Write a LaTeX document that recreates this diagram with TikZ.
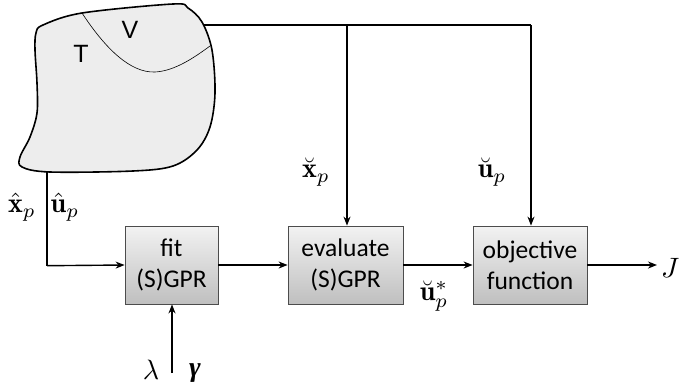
\documentclass[tikz,border=0pt]{standalone}
\usepackage{amsmath,amssymb,graphicx}
\usepackage{fontspec}
\newfontfamily\boxfont{Carlito}
\newfontfamily\arialfont{Liberation Sans}
\newfontfamily\gkfont{Liberation Serif}
\usetikzlibrary{arrows.meta}
\newcommand{\lblmath}[1]{\scalebox{2.8}{$#1$}}
\newcommand{\boldgam}{{\gkfont\fontsize{28}{30}\selectfont\bfseries\itshape γ}}
\begin{document}
\begin{tikzpicture}[x=1pt,y=-1pt,
  conn/.style={line width=1.4pt,-{Stealth[length=9pt,width=7pt]}},
  plain/.style={line width=1.4pt},
  blk/.style={draw=black!70,line width=0.8pt,top color=black!5,bottom color=black!25,
    minimum width=93pt,minimum height=78pt,inner sep=0pt,align=center,
    font=\boxfont\fontsize{25.5}{31}\selectfont},
  lbl/.style={inner sep=0pt},
  rl/.style={font=\arialfont\fontsize{25}{27}\selectfont,inner sep=0pt}]
\useasboundingbox (0,0) rectangle (679,389);
% blob
\draw[line width=1.6pt,fill=black!7] plot[smooth cycle,tension=0.55] coordinates {
 (36,33) (43,25) (82,13) (173,4) (188,8) (202,22) (212,50) (215,93) (210,127)
 (197,150) (173,166) (133,171) (50,172) (22,167) (20,157) (30,137) (37,113)
 (37,83) (35,50)};
\draw[line width=0.6pt] (82,13) .. controls (105,48) and (130,73) .. (155,72)
  .. controls (175,71) and (195,57) .. (210,46);
\node[rl] (T) at (81,54) {T};
\node[rl] (V) at (130,30) {V};
\coordinate (blobR) at (203,25);
\coordinate (blobB) at (47,172);
% blocks
\node[blk] (fit) at (171.5,265) {fit\\(S)GPR};
\node[blk,minimum width=115pt] (eval) at (345.5,265) {evaluate\\(S)GPR};
\node[blk,minimum width=114pt] (obj) at (530,265) {objective\\function};
\coordinate (c1) at (347,25);
\coordinate (c2) at (531,25);
\coordinate (c3) at (47,265.7);
\coordinate (lg) at (172,373);
\node[lbl,anchor=west] (J) at (661,268) {\lblmath{J}};
\coordinate (jin) at (657,265);
% connectors
\draw[plain] (blobR) -- (c2);
\draw[conn] (c1) -- (c1 |- eval.north);
\draw[conn] (c2) -- (c2 |- obj.north);
\draw[plain] (blobB) -- (c3);
\draw[conn] (c3) -- (fit.west);
\draw[conn] (fit) -- (eval);
\draw[conn] (eval) -- (obj);
\draw[conn] (obj.east) -- (jin);
\draw[conn] (lg) -- (lg |- fit.south);
% labels
\node[lbl] (xh) at (22,207) {\lblmath{\hat{\mathbf{x}}_p}};
\node[lbl] (uh) at (65,207) {\lblmath{\hat{\mathbf{u}}_p}};
\node[lbl] (xb) at (316,172) {\lblmath{\breve{\mathbf{x}}_p}};
\node[lbl] (ub) at (492,172) {\lblmath{\breve{\mathbf{u}}_p}};
\node[lbl] (us) at (434,296) {\lblmath{\breve{\mathbf{u}}_p^*}};
\node[lbl] (lam) at (151,370) {\lblmath{\lambda}};
\node[lbl] (gam) at (195,373) {\boldgam};
\end{tikzpicture}
\end{document}
